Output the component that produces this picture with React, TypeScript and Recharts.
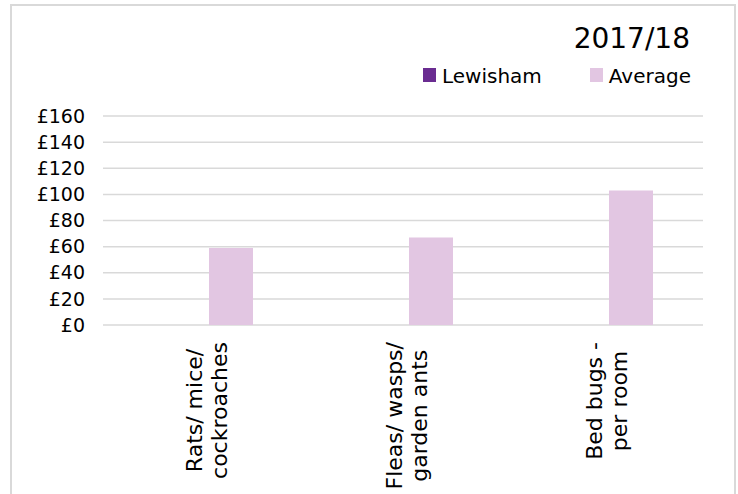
import { BarChart, Bar, XAxis, YAxis, CartesianGrid } from "recharts";

const categories = ["Rats/ mice/\ncockroaches", "Fleas/ wasps/\ngarden ants", "Bed bugs -\nper room"];
const seriesNames = ["Lewisham", "Average"];
const seriesColors = ["#6a2c91", "#e2c6e2"];
const lewisham = [0, 0, 0];
const average = [59, 67, 103];
const yTicks = [0, 20, 40, 60, 80, 100, 120, 140, 160];

const chartData = categories.map((c, i) => ({
  name: c,
  lewisham: lewisham[i],
  average: average[i],
}));

const FONT = "'DejaVu Sans', Verdana, sans-serif";
const LABEL_SIZE = 22;

let ctx: CanvasRenderingContext2D | null = null;
function textWidth(s: string, size: number) {
  if (!ctx) ctx = document.createElement("canvas").getContext("2d");
  if (!ctx) return s.length * size * 0.6;
  ctx.font = `${size}px ${FONT}`;
  return ctx.measureText(s).width;
}

function CategoryTick({ x, y, payload }: any) {
  const lines = String(payload.value).split("\n");
  const maxW = Math.max(...lines.map((l) => textWidth(l, LABEL_SIZE)));
  const cy = y + 17 + maxW / 2;
  return (
    <g transform={`translate(${x},${cy})`}>
      <text transform="rotate(-90)" textAnchor="middle" fontSize={LABEL_SIZE} fontFamily={FONT} fill="#000">
        {lines.map((l, i) => (
          <tspan key={i} x={0} y={-1 + i * 25}>
            {l}
          </tspan>
        ))}
      </text>
    </g>
  );
}

export default function App() {
  return (
    <div style={{ position: "absolute", left: 0, top: 0, width: 738, height: 494, overflow: "hidden", background: "#fff" }}>
      <div
        style={{
          position: "absolute",
          left: 10,
          top: 4,
          width: 726,
          height: 520,
          border: "2px solid #d9d9d9",
          boxSizing: "border-box",
        }}
      />
      <div
        style={{
          position: "absolute",
          right: 48,
          top: 25,
          fontFamily: FONT,
          fontSize: 28,
          lineHeight: "28px",
          color: "#000",
        }}
      >
        2017/18
      </div>
      <div
        style={{
          position: "absolute",
          left: 423,
          top: 66,
          display: "flex",
          fontFamily: FONT,
          fontSize: 20,
          lineHeight: "20px",
          color: "#000",
        }}
      >
        {seriesNames.map((n, i) => (
          <div key={n} style={{ display: "flex", alignItems: "flex-start", marginRight: i === 0 ? 48 : 0 }}>
            <span
              style={{ width: 13, height: 14, marginTop: 2, marginRight: 6, background: seriesColors[i], display: "inline-block" }}
            />
            <span>{n}</span>
          </div>
        ))}
      </div>
      <div style={{ position: "absolute", left: 0, top: 0 }}>
        <BarChart
          width={738}
          height={494}
          data={chartData}
          margin={{ top: 116, right: 35, bottom: 9, left: 0 }}
          barCategoryGap="25%"
          barGap={12}
        >
          <CartesianGrid vertical={false} stroke="#d9d9d9" strokeWidth={1.5} />
          <XAxis
            dataKey="name"
            axisLine={false}
            tickLine={false}
            tickSize={0}
            tickMargin={0}
            height={160}
            interval={0}
            tick={<CategoryTick />}
          />
          <YAxis
            width={103}
            domain={[0, 160]}
            ticks={yTicks}
            interval={0}
            axisLine={false}
            tickLine={false}
            tickSize={0}
            tickMargin={18}
            tickFormatter={(v) => `£${v}`}
            tick={{ fontSize: 19, fontFamily: FONT, fill: "#000" }}
          />
          <Bar dataKey="lewisham" name={seriesNames[0]} fill={seriesColors[0]} isAnimationActive={false} />
          <Bar dataKey="average" name={seriesNames[1]} fill={seriesColors[1]} isAnimationActive={false} />
        </BarChart>
      </div>
    </div>
  );
}
